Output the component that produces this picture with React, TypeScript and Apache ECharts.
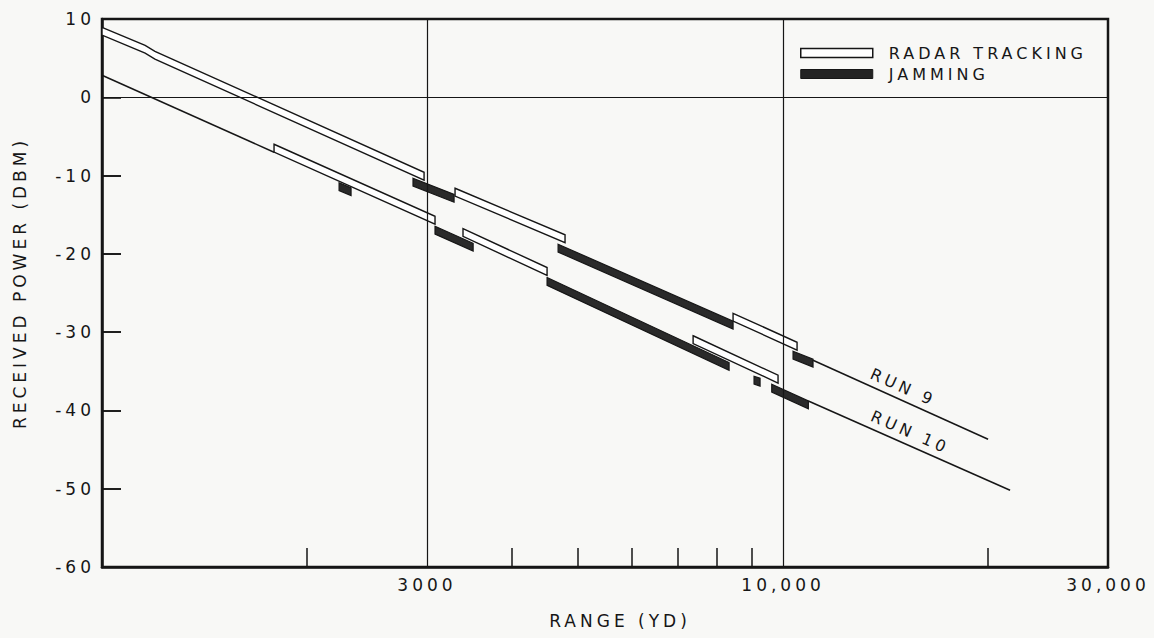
import { useEffect, useRef } from 'react';
import * as echarts from 'echarts';

// ---------- axes ----------
const X_MIN = 1000;
const X_MAX = 30000;
const X_LABEL_VALUES = [3000, 10000, 30000];
const X_TICK_VALUES = [2000, 4000, 5000, 6000, 7000, 8000, 9000, 20000];
const Y_MIN = -60;
const Y_MAX = 10;
const Y_STEP = 10;
const Y_TICK_VALUES = [-50, -40, -30, -20, -10];
const Y_TICK_END_RANGE = 1066; // inner end of the short left-axis ticks
const GRID_RANGES = [3000, 10000];
const GRID_POWERS = [0];

// band thickness in dB
const BAND_DB = 1.0;

// ---------- RUN 9 : [range (yd), top edge (dBm)] ----------
const RUN9_TRACKING = [
  [[1000, 8.94], [1157, 6.64], [1196, 5.87], [2971, -9.58]],
  [[3299, -11.62], [4785, -17.56]],
  [[8445, -27.59], [10485, -31.29]],
];
const RUN9_JAMMING = [
  [[2862, -10.34], [3288, -12.4]],
  [[4674, -18.77], [8445, -28.61]],
  [[10344, -32.44], [11066, -33.46]],
];
const RUN9_LINE = [[11066, -33.59], [20000, -43.68]];

// ---------- RUN 10 ----------
const RUN10_LINE_A = [[1000, 2.81], [1789, -7.02]];
const RUN10_TRACKING = [
  [[1789, -6.0], [3083, -15.2]],
  [[3389, -16.77], [4503, -21.75]],
  [[7378, -30.46], [9832, -35.5]],
];
const RUN10_JAMMING = [
  [[2229, -10.92], [2321, -11.56]],
  [[3083, -16.48], [3507, -18.65]],
  [[4503, -23.03], [8332, -33.88]],
  [[9066, -35.63], [9252, -35.89]],
  [[9625, -36.65], [10893, -38.79]],
];
const RUN10_LINE_B = [[10893, -38.79], [21544, -50.19]];

// ---------- run labels ----------
const RUN_LABEL_TEXT = ['RUN 9', 'RUN 10'];
const RUN_LABEL_AT = [[15007, -37.04], [15370, -42.78]];
const RUN_LABEL_ALONG = [RUN9_LINE, RUN10_LINE_B];

const TRACK_BANDS = [...RUN9_TRACKING, ...RUN10_TRACKING];
const JAM_BANDS = [...RUN9_JAMMING, ...RUN10_JAMMING];

const FONT = '"DejaVu Sans", "Liberation Sans", sans-serif';
const INK = '#161616';
const PAPER = '#f8f8f6';

function fmtRange(v: number): string {
  const n = Math.round(v);
  const s = String(n);
  return n >= 10000 ? s.replace(/\B(?=(\d{3})+(?!\d))/g, ',') : s;
}

function bandRenderer(bands: number[][][], fill: string, lw: number) {
  return (_params: any, api: any) => {
    const band = bands[api.value(2)];
    const top = band.map((p) => api.coord([p[0], p[1]]));
    const bot = band
      .slice()
      .reverse()
      .map((p) => api.coord([p[0], p[1] - BAND_DB]));
    return {
      type: 'polygon',
      shape: { points: top.concat(bot) },
      style: { fill, stroke: INK, lineWidth: lw, lineJoin: 'miter' },
    };
  };
}

function lineSeries(name: string, data: number[][], extra: any = {}) {
  return {
    name,
    type: 'line',
    data,
    symbol: 'none',
    z: 4,
    lineStyle: { color: INK, width: 1.5 },
    silent: true,
    ...extra,
  };
}

export default function App() {
  const ref = useRef<HTMLDivElement>(null);

  useEffect(() => {
    if (!ref.current) return;
    const chart = echarts.init(ref.current, null, { renderer: 'svg' });

    const option: any = {
      animation: false,
      backgroundColor: PAPER,
      textStyle: { fontFamily: FONT, color: INK },
      grid: {
        left: 102,
        right: 46,
        top: 19,
        bottom: 71,
        show: true,
        borderColor: INK,
        borderWidth: 2.5,
      },
      legend: {
        left: 795,
        top: 40,
        orient: 'vertical',
        itemWidth: 72,
        itemHeight: 9,
        itemGap: 5,
        selectedMode: false,
        textStyle: { fontSize: 16, color: INK, fontFamily: FONT, padding: [0, 0, 0, 11] },
        data: [
          { name: 'RADAR TRACKING', icon: 'rect', itemStyle: { color: '#ffffff', borderColor: INK, borderWidth: 1.5 } },
          { name: 'JAMMING', icon: 'rect', itemStyle: { color: '#232323', borderColor: INK, borderWidth: 1 } },
        ],
      },
      xAxis: {
        type: 'log',
        logBase: 10,
        min: X_MIN,
        max: X_MAX,
        axisLine: { show: true, onZero: false, lineStyle: { color: INK, width: 2.5 } },
        axisTick: {
          show: true,
          inside: true,
          length: 19,
          customValues: X_TICK_VALUES,
          lineStyle: { color: INK, width: 1.5 },
        },
        axisLabel: {
          customValues: X_LABEL_VALUES,
          formatter: fmtRange,
          fontSize: 17,
          color: INK,
          fontFamily: FONT,
          margin: 9,
        },
        splitLine: { show: false },
        minorTick: { show: false },
        minorSplitLine: { show: false },
      },
      yAxis: {
        type: 'value',
        min: Y_MIN,
        max: Y_MAX,
        interval: Y_STEP,
        axisLine: { show: true, onZero: false, lineStyle: { color: INK, width: 2.5 } },
        axisTick: { show: true, inside: true, length: 19, lineStyle: { color: INK, width: 1.6 } },
        axisLabel: { fontSize: 17, color: INK, fontFamily: FONT, margin: 7 },
        splitLine: { show: false },
      },
      graphic: [
        {
          type: 'text',
          x: 20,
          y: 283,
          rotation: Math.PI / 2,
          style: {
            text: 'RECEIVED POWER (DBM)',
            fill: INK,
            fontSize: 17,
            fontFamily: FONT,
            textAlign: 'center',
            textVerticalAlign: 'middle',
            align: 'center',
            verticalAlign: 'middle',
          },
        },
        {
          type: 'text',
          x: 620,
          y: 621,
          style: {
            text: 'RANGE (YD)',
            fill: INK,
            fontSize: 17,
            fontFamily: FONT,
            textAlign: 'center',
            textVerticalAlign: 'middle',
            align: 'center',
            verticalAlign: 'middle',
          },
        },
      ],
      series: [
        {
          name: 'RADAR TRACKING',
          type: 'custom',
          z: 2,
          silent: true,
          itemStyle: { color: '#ffffff', borderColor: INK },
          data: TRACK_BANDS.map((b, i) => [b[0][0], b[0][1], i]),
          encode: { x: 0, y: 1 },
          renderItem: bandRenderer(TRACK_BANDS, '#ffffff', 1.4),
        },
        {
          name: 'JAMMING',
          type: 'custom',
          z: 3,
          silent: true,
          itemStyle: { color: '#232323' },
          data: JAM_BANDS.map((b, i) => [b[0][0], b[0][1], i]),
          encode: { x: 0, y: 1 },
          renderItem: bandRenderer(JAM_BANDS, '#2a2a2a', 1.2),
        },
        lineSeries('RUN 9', RUN9_LINE, {
          markLine: {
            silent: true,
            symbol: ['none', 'none'],
            label: { show: false },
            lineStyle: { color: INK, width: 1.2, type: 'solid' },
            data: [
              ...GRID_RANGES.map((r) => ({ xAxis: r })),
              ...GRID_POWERS.map((p) => ({ yAxis: p })),
            ],
          },
        }),
        lineSeries('RUN 10 (near)', RUN10_LINE_A, {
          markLine: {
            silent: true,
            symbol: ['none', 'none'],
            label: { show: false },
            lineStyle: { color: INK, width: 1.6, type: 'solid' },
            data: Y_TICK_VALUES.map((v) => [{ coord: [X_MIN, v] }, { coord: [Y_TICK_END_RANGE, v] }]),
          },
        }),
        lineSeries('RUN 10', RUN10_LINE_B),
        {
          name: 'RUN LABELS',
          type: 'custom',
          z: 5,
          silent: true,
          data: RUN_LABEL_AT.map((p, i) => [p[0], p[1], i]),
          encode: { x: 0, y: 1 },
          renderItem: (_params: any, api: any) => {
            const i = api.value(2);
            const c = api.coord([api.value(0), api.value(1)]);
            const line = RUN_LABEL_ALONG[i];
            const a = api.coord(line[0]);
            const b = api.coord(line[line.length - 1]);
            const rot = -Math.atan2(b[1] - a[1], b[0] - a[0]);
            return {
              type: 'text',
              x: c[0],
              y: c[1],
              rotation: rot,
              style: {
                text: RUN_LABEL_TEXT[i],
                fill: INK,
                fontSize: 16,
                fontFamily: FONT,
                textAlign: 'center',
                textVerticalAlign: 'middle',
                align: 'center',
                verticalAlign: 'middle',
              },
            };
          },
        },
      ],
    };

    chart.setOption(option);
    return () => chart.dispose();
  }, []);

  return (
    <div
      ref={ref}
      style={{ position: 'absolute', left: 0, top: 0, width: 1154, height: 638, letterSpacing: '4px' }}
    />
  );
}
